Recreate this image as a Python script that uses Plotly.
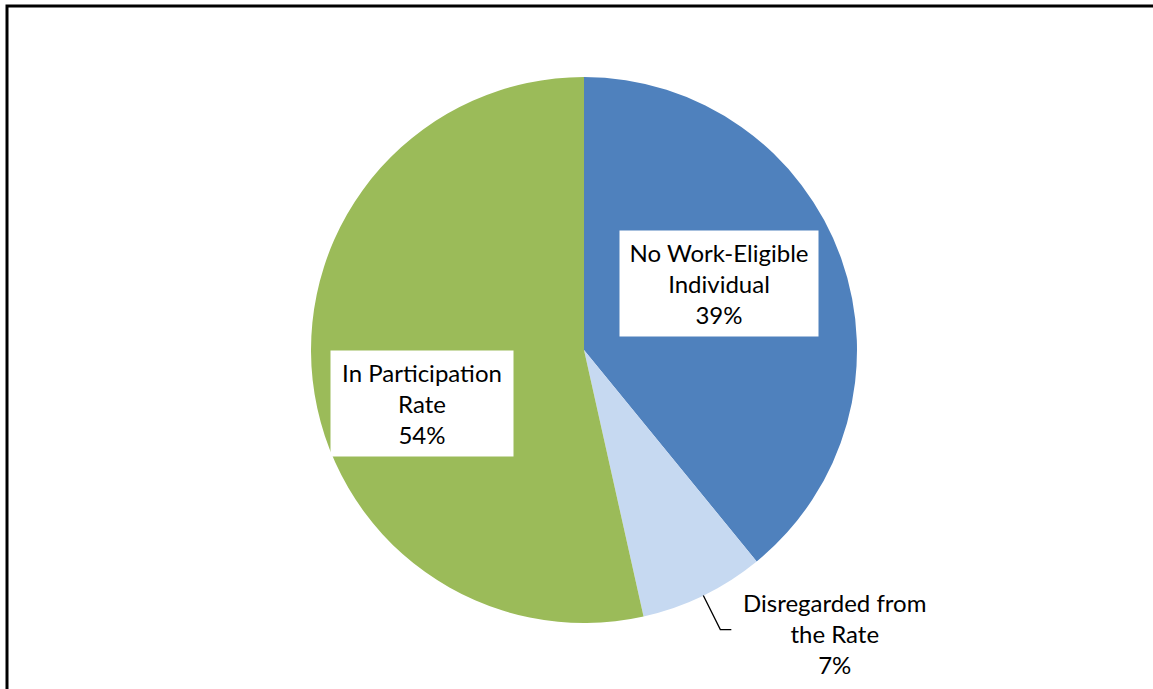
import math
import plotly.graph_objects as go

# Data
categories = ["No Work-Eligible Individual", "Disregarded from the Rate", "In Participation Rate"]
values = [39.1, 7.4, 53.5]
pct_labels = ["39%", "7%", "54%"]
label_lines = [["No Work-Eligible", "Individual"], ["Disregarded from", "the Rate"], ["In Participation", "Rate"]]
colors = ["#4F81BD", "#C6D9F1", "#9BBB59"]

W, H = 1153, 689
cx, cy, r = 584, 350, 273  # pie centre / radius in pixels

def px(x):
    return x / W

def py(y):
    return 1 - y / H

fig = go.Figure(go.Pie(
    labels=categories,
    values=values,
    sort=False,
    direction="clockwise",
    rotation=0,
    marker=dict(colors=colors, line=dict(width=0)),
    textinfo="none",
    hoverinfo="label+percent",
    showlegend=False,
    domain=dict(x=[px(cx - r), px(cx + r)], y=[py(cy + r), py(cy - r)]),
))

font = dict(family="Lato, 'Open Sans', sans-serif", size=24, color="black")

# label boxes (pixel centre, box width, box height)
label_pos = [(719, 283, 198, 105), (834, 633, None, None), (422, 404, 182, 105)]
annotations = []
for i, (lx, ly, bw, bh) in enumerate(label_pos):
    text = "<br>".join(label_lines[i] + [pct_labels[i]])
    ann = dict(
        x=px(lx), y=py(ly), xref="paper", yref="paper",
        xanchor="center", yanchor="middle",
        text=text, showarrow=False, font=font, align="center",
    )
    if bw:
        ann.update(bgcolor="white", borderpad=4, width=bw - 8, height=bh - 8)
    annotations.append(ann)

# leader line for the small slice, from slice mid-angle on the edge
total = sum(values)
mid = (values[0] + values[1] / 2) / total * 2 * math.pi
ex = cx + r * math.sin(mid)
ey = cy - r * math.cos(mid)
leader = f"M {px(ex)},{py(ey)} L {px(ex + 17)},{py(ey + 34)} L {px(ex + 28)},{py(ey + 34)}"

shapes = [
    dict(type="path", path=leader, xref="paper", yref="paper",
         line=dict(color="black", width=1.3)),
    dict(type="rect", xref="paper", yref="paper",
         x0=px(7), x1=1.02, y0=-0.02, y1=py(6),
         line=dict(color="black", width=3), fillcolor="rgba(0,0,0,0)"),
]

fig.update_layout(
    width=W, height=H,
    margin=dict(l=0, r=0, t=0, b=0),
    paper_bgcolor="white",
    plot_bgcolor="white",
    annotations=annotations,
    shapes=shapes,
)

fig.write_html("out.html", config={"displayModeBar": False},
               post_script="document.body.style.margin='0';")
